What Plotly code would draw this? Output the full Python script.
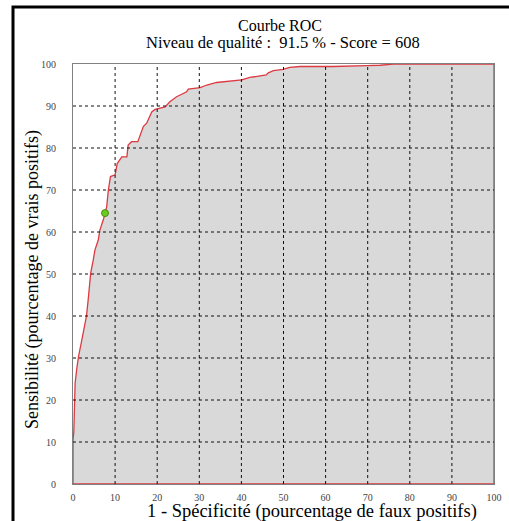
import plotly.graph_objects as go

# ROC curve (1 - specificity, sensitivity), closed along the right and bottom edges
fpr = [0, 0, 0.2, 0.3, 0.5, 0.9, 1.3, 2.1, 2.7, 3.2,
       3.6, 4.2, 4.8, 5.2, 6.0, 6.4, 7.2, 8.0, 8.4, 8.9,
       10.0, 10.5, 11.6, 12.8, 13.1, 13.9, 15.4, 15.9, 16.7, 17.5,
       18.7, 19.5, 20.3, 21.9, 23.0, 24.6, 27.0, 27.4, 30.2, 31.8,
       34.1, 38.1, 40.1, 42.0, 45.9, 46.4, 47.6, 49.9, 51.5, 53.9,
       61.8, 69.8, 72.9, 76.1, 100, 100, 0]
tpr = [0, 10.5, 12.5, 20, 24, 27.5, 30.3, 34.3, 37.5, 40,
       43.8, 50.2, 53.3, 55.7, 58.1, 60.5, 62.9, 66, 70, 73.2,
       73.6, 76.3, 77.9, 77.9, 80.7, 81.5, 81.5, 83.1, 85.1, 85.9,
       88.6, 89.2, 89.4, 89.8, 91.0, 92.2, 93.4, 94.0, 94.4, 95.0,
       95.6, 96.0, 96.2, 96.8, 97.4, 97.9, 98.4, 98.7, 99.2, 99.4,
       99.4, 99.6, 99.7, 100, 100, 0, 0]

# selected threshold point
point_x = [7.6]
point_y = [64.5]

tick_vals = [0, 10, 20, 30, 40, 50, 60, 70, 80, 90, 100]
tick_text = [str(v) for v in tick_vals]
grid_vals = tick_vals[1:-1]

title_line1 = "Courbe ROC"
title_line2 = "Niveau de qualité :\u00a0 91.5 % - Score = 608"
x_title = "1 - Spécificité (pourcentage de faux positifs)"
y_title = "Sensibilité (pourcentage de vrais positifs)"

SERIF = "Liberation Serif"

fig = go.Figure()
fig.add_trace(go.Scatter(
    x=fpr, y=tpr, mode="lines", fill="toself", fillcolor="#d9d9d9",
    line=dict(color="#dc3a42", width=1.3), hoverinfo="skip", showlegend=False,
))
fig.add_trace(go.Scatter(
    x=point_x, y=point_y, mode="markers",
    marker=dict(size=7, color="#6acd1e", line=dict(color="#4f8a14", width=1)),
    showlegend=False,
))

shapes = []
for v in grid_vals:
    shapes.append(dict(type="line", xref="x", yref="y", x0=v, x1=v, y0=0, y1=100,
                       line=dict(color="#111111", width=1, dash="3px,3px"), layer="above"))
    shapes.append(dict(type="line", xref="x", yref="y", x0=0, x1=100, y0=v, y1=v,
                       line=dict(color="#111111", width=1, dash="3px,3px"), layer="above"))
# outer black frame (left and top visible)
shapes.append(dict(type="rect", xref="paper", yref="paper",
                   x0=-0.1425, x1=1.3, y0=-0.3, y1=1.1357,
                   line=dict(color="black", width=3), layer="below"))

axis_common = dict(
    range=[0, 100], tickmode="array", tickvals=tick_vals, ticktext=tick_text,
    showgrid=False, zeroline=False, showline=True, mirror=True,
    linecolor="#808080", linewidth=1, ticks="", layer="below traces",
    automargin=False,
    tickfont=dict(family=SERIF, size=10, color="#444444"),
)

fig.update_layout(
    width=509, height=521, autosize=False,
    margin=dict(l=73, r=15, t=64, b=37, autoexpand=False),
    paper_bgcolor="white", plot_bgcolor="white",
    font=dict(family=SERIF),
    xaxis=dict(**axis_common, ticklabelstandoff=4),
    yaxis=dict(**axis_common, ticklabelstandoff=14),
    shapes=shapes,
    annotations=[
        dict(text=title_line1, xref="paper", yref="paper", x=(280 - 73) / 421,
             y=(484 - 25) / 420, showarrow=False, xanchor="center", yanchor="middle",
             font=dict(family=SERIF, size=16, color="black")),
        dict(text=title_line2, xref="paper", yref="paper", x=(283 - 73) / 421,
             y=(484 - 43) / 420, showarrow=False, xanchor="center", yanchor="middle",
             font=dict(family=SERIF, size=16.5, color="black")),
        dict(text=x_title, xref="paper", yref="paper", x=(312 - 73) / 421,
             y=(484 - 511) / 420, showarrow=False, xanchor="center", yanchor="middle",
             font=dict(family=SERIF, size=18.5, color="black")),
        dict(text=y_title, xref="paper", yref="paper", x=(32 - 73) / 421,
             y=(484 - 280) / 420, showarrow=False, xanchor="center", yanchor="middle",
             textangle=-90, font=dict(family=SERIF, size=18, color="black")),
    ],
)

fig.write_html(
    "out.html",
    config={"displayModeBar": False, "responsive": False},
    post_script="document.body.style.margin='0';document.body.style.overflow='hidden';",
)
